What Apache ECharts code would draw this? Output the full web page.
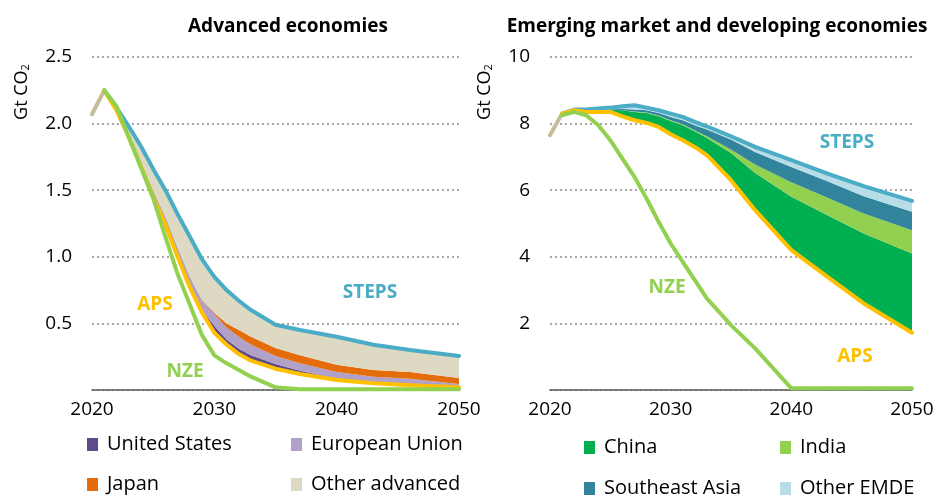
<!DOCTYPE html>
<html>
<head>
<meta charset="UTF-8">
<title>CO2 emissions by scenario</title>
<script src="https://cdn.jsdelivr.net/npm/echarts@6/dist/echarts.min.js"></script>
<style>
  body { margin: 0; background: #fff; }
  #chart { width: 940px; height: 502px; }
</style>
</head>
<body>
<div id="chart"></div>
<script>
// historical segment (drawn in tan) and scenario years
var histYears = [2020, 2021];
var years = [2021, 2022, 2023, 2024, 2025, 2026, 2027, 2028, 2029, 2030, 2031, 2032, 2033, 2035, 2037, 2040, 2043, 2046, 2050];
var xTicks = [2020, 2030, 2040, 2050];

// Advanced economies, Gt CO2
var advHist  = [2.07, 2.25];
var advSteps = [2.25, 2.12, 1.98, 1.83, 1.66, 1.50, 1.32, 1.15, 0.98, 0.85, 0.75, 0.67, 0.60, 0.49, 0.45, 0.40, 0.34, 0.30, 0.255];
var advAps   = [2.25, 2.10, 1.90, 1.68, 1.45, 1.24, 1.00, 0.77, 0.58, 0.43, 0.34, 0.27, 0.22, 0.16, 0.12, 0.075, 0.05, 0.035, 0.02];
var advNze   = [2.25, 2.13, 1.90, 1.67, 1.44, 1.15, 0.87, 0.64, 0.41, 0.26, 0.20, 0.15, 0.10, 0.02, 0.006, 0.005, 0.005, 0.005, 0.005];
// gap APS -> STEPS by region
var advUS    = [0, 0, 0.005, 0.005, 0.01, 0.01, 0.01, 0.01, 0.02, 0.05, 0.04, 0.04, 0.04, 0.035, 0.025, 0.01, 0.01, 0.01, 0.005];
var advEU    = [0, 0.005, 0.015, 0.03, 0.04, 0.05, 0.06, 0.07, 0.07, 0.09, 0.09, 0.09, 0.08, 0.06, 0.055, 0.05, 0.04, 0.04, 0.02];
var advJapan = [0, 0, 0, 0, 0, 0, 0, 0, 0.005, 0.01, 0.03, 0.05, 0.06, 0.06, 0.06, 0.055, 0.05, 0.05, 0.045];
var advOther = [0, 0.015, 0.06, 0.115, 0.16, 0.20, 0.25, 0.30, 0.305, 0.27, 0.25, 0.22, 0.20, 0.175, 0.19, 0.21, 0.19, 0.165, 0.165];

// Emerging market and developing economies, Gt CO2
var emdeHist  = [7.65, 8.3];
var emdeSteps = [8.3, 8.42, 8.42, 8.45, 8.48, 8.52, 8.55, 8.48, 8.4, 8.3, 8.2, 8.05, 7.92, 7.62, 7.3, 6.9, 6.5, 6.12, 5.68];
var emdeAps   = [8.3, 8.4, 8.35, 8.35, 8.35, 8.22, 8.1, 8.02, 7.9, 7.68, 7.5, 7.3, 7.05, 6.3, 5.4, 4.2, 3.4, 2.6, 1.72];
var emdeNze   = [8.25, 8.35, 8.25, 7.95, 7.5, 6.95, 6.4, 5.75, 5.05, 4.4, 3.85, 3.3, 2.75, 1.95, 1.25, 0.05, 0.05, 0.05, 0.05];
var emdeChina = [0, 0, 0.02, 0.03, 0.06, 0.18, 0.25, 0.3, 0.32, 0.4, 0.45, 0.47, 0.52, 0.82, 1.12, 1.6, 1.85, 2.1, 2.38];
var emdeIndia = [0, 0, 0, 0, 0, 0, 0.01, 0.01, 0.02, 0.02, 0.03, 0.03, 0.05, 0.1, 0.25, 0.44, 0.52, 0.6, 0.7];
var emdeSea   = [0, 0, 0.01, 0.02, 0.02, 0.04, 0.06, 0.07, 0.08, 0.1, 0.12, 0.15, 0.2, 0.3, 0.38, 0.46, 0.5, 0.52, 0.55];
var emdeOther = [0, 0.02, 0.04, 0.05, 0.05, 0.08, 0.13, 0.08, 0.08, 0.1, 0.1, 0.1, 0.1, 0.1, 0.15, 0.2, 0.23, 0.3, 0.33];

var advRegions  = ['United States', 'European Union', 'Japan', 'Other advanced'];
var emdeRegions = ['China', 'India', 'Southeast Asia', 'Other EMDE'];

var FONT = '"Open Sans", "Liberation Sans", sans-serif';
var C = {
  steps: '#4BACC6', aps: '#FFC000', nze: '#92D050', hist: '#C4BD97',
  us: '#5F4B8B', eu: '#B1A0C7', japan: '#E46C0A', otherAdv: '#DDD9C3',
  china: '#00B050', india: '#92D050', sea: '#31849B', otherEmde: '#B7DEE8'
};

// value first, year second, so stacking happens on the value dimension
function pairs(xs, ys) {
  return xs.map(function (x, i) { return [ys[i], x]; });
}
var ENC = { x: 1, y: 0 };

function base(idx, stack, vals) {
  return { type: 'line', xAxisIndex: idx, yAxisIndex: idx, stack: stack, data: pairs(years, vals), encode: ENC,
    symbol: 'none', lineStyle: { width: 0 }, silent: true, z: 1 };
}
function wedge(idx, stack, name, vals, color) {
  return { type: 'line', name: name, xAxisIndex: idx, yAxisIndex: idx, stack: stack, data: pairs(years, vals), encode: ENC,
    symbol: 'none', lineStyle: { width: 0 }, areaStyle: { color: color, opacity: 1 },
    itemStyle: { color: color }, silent: true, z: 2 };
}
function line(idx, xs, vals, color) {
  return { type: 'line', xAxisIndex: idx, yAxisIndex: idx, data: pairs(xs, vals), encode: ENC,
    symbol: 'none', lineStyle: { width: 4, color: color, cap: 'round', join: 'round' }, silent: true, z: 3 };
}

var advColors  = [C.us, C.eu, C.japan, C.otherAdv];
var emdeColors = [C.china, C.india, C.sea, C.otherEmde];
var advVals  = [advUS, advEU, advJapan, advOther];
var emdeVals = [emdeChina, emdeIndia, emdeSea, emdeOther];

var series = [base(0, 'adv', advAps)];
advRegions.forEach(function (n, i) { series.push(wedge(0, 'adv', n, advVals[i], advColors[i])); });
series.push(line(0, histYears, advHist, C.hist), line(0, years, advSteps, C.steps),
             line(0, years, advAps, C.aps), line(0, years, advNze, C.nze));

series.push(base(1, 'emde', emdeAps));
emdeRegions.forEach(function (n, i) { series.push(wedge(1, 'emde', n, emdeVals[i], emdeColors[i])); });
series.push(line(1, histYears, emdeHist, C.hist), line(1, years, emdeSteps, C.steps),
            line(1, years, emdeAps, C.aps), line(1, years, emdeNze, C.nze));

function xAxis(idx) {
  return {
    type: 'value', gridIndex: idx, min: xTicks[0], max: xTicks[xTicks.length - 1], interval: 10,
    axisLine: { show: true, lineStyle: { color: '#595959', width: 1.5 } },
    axisTick: { show: false }, splitLine: { show: false },
    axisLabel: { color: '#000', fontFamily: FONT, fontSize: 19, margin: 10,
      formatter: function (v) { return String(v); } }
  };
}
function yAxis(idx, max, interval, fmt) {
  return {
    type: 'value', gridIndex: idx, min: 0, max: max, interval: interval,
    axisLine: { show: false }, axisTick: { show: false },
    splitLine: { show: true, lineStyle: { color: '#8c8c8c', type: [2, 3], width: 1.5 } },
    axisLabel: { color: '#000', fontFamily: FONT, fontSize: 19, margin: 20,
      formatter: function (v) { return v === 0 ? '' : fmt(v); } }
  };
}

// legend boxes, one per item
var legendPos = [
  [87, 434], [291, 434], [87, 474], [291, 474],
  [584, 437], [780, 437], [584, 478], [780, 478]
];
var legendNames = advRegions.concat(emdeRegions);
var legendColors = advColors.concat(emdeColors);
var legends = legendNames.map(function (n, i) {
  return {
    left: legendPos[i][0], top: legendPos[i][1], padding: 0, itemWidth: 11, itemHeight: 13,
    selectedMode: false,
    data: [{ name: n, icon: 'rect', itemStyle: { color: legendColors[i] } }],
    textStyle: { color: '#000', fontFamily: FONT, fontSize: 20, lineHeight: 21, padding: [0, 0, 0, 4] }
  };
});

function label(x, y, text, color) {
  return { type: 'text', x: x, y: y, silent: true,
    style: { text: text, fill: color, font: 'bold 19px ' + FONT, align: 'center', verticalAlign: 'middle' } };
}
function yName(x, y) {
  return { type: 'text', x: x, y: y, rotation: Math.PI / 2, silent: true,
    style: { text: 'Gt CO{s|2}', fill: '#000', font: '18px ' + FONT, align: 'center', verticalAlign: 'middle',
      rich: { s: { fontSize: 11, fontFamily: FONT, verticalAlign: 'bottom', padding: [6, 0, 0, 0] } } } };
}

var chart = echarts.init(document.getElementById('chart'));
chart.setOption({
  animation: false,
  backgroundColor: '#fff',
  grid: [
    { left: 92, right: 481, top: 57, bottom: 112 },
    { left: 550, right: 28, top: 57, bottom: 112 }
  ],
  xAxis: [xAxis(0), xAxis(1)],
  yAxis: [
    yAxis(0, 2.5, 0.5, function (v) { return v.toFixed(1); }),
    yAxis(1, 10, 2, function (v) { return String(v); })
  ],
  legend: legends,
  graphic: [
    { type: 'text', x: 288, y: 27, silent: true,
      style: { text: 'Advanced economies', fill: '#000', font: 'bold 19px ' + FONT, align: 'center', verticalAlign: 'middle' } },
    { type: 'text', x: 717, y: 27, silent: true,
      style: { text: 'Emerging market and developing economies', fill: '#000', font: 'bold 19px ' + FONT, align: 'center', verticalAlign: 'middle' } },
    yName(22, 92), yName(485, 92),
    label(370, 293, 'STEPS', C.steps), label(155, 305, 'APS', C.aps), label(185, 372, 'NZE', C.nze),
    label(847, 143, 'STEPS', C.steps), label(667, 288, 'NZE', C.nze), label(855, 357, 'APS', C.aps)
  ],
  series: series
});
</script>
</body>
</html>
